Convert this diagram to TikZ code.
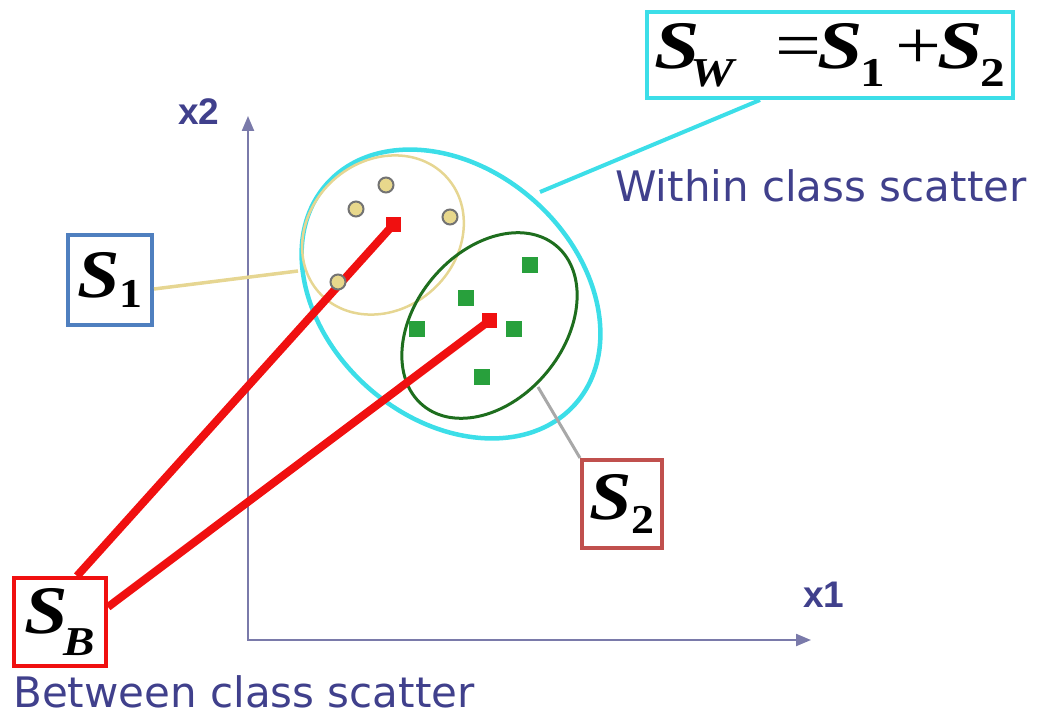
\documentclass[tikz,border=0pt]{standalone}
\usepackage{fontspec}
\setmainfont{Liberation Serif}
\newfontfamily\sansf{Liberation Sans}
\newfontfamily\dejaf{DejaVu Sans}
\usetikzlibrary{arrows.meta,calc}
\definecolor{axiscol}{RGB}{122,122,170}
\definecolor{labcol}{RGB}{64,64,140}
\definecolor{cyanc}{RGB}{60,222,232}
\definecolor{tanc}{RGB}{230,214,146}
\definecolor{darkg}{RGB}{30,110,30}
\definecolor{ptg}{RGB}{40,160,60}
\definecolor{redc}{RGB}{240,16,16}
\definecolor{blueb}{RGB}{79,127,191}
\definecolor{brownb}{RGB}{192,80,77}
\definecolor{grayc}{RGB}{168,168,168}
\definecolor{ptfill}{RGB}{232,216,140}
\newcommand\Sy[3]{{\bfseries\itshape S}\kern#2\raisebox{-#1}{\fontsize{41}{41}\selectfont\bfseries #3}}
\tikzset{
  axisline/.style={draw=axiscol, line width=2.2pt},
  symbox/.style={draw=#1, line width=4pt, fill=white, inner sep=0pt, font=\fontsize{68}{70}\selectfont},
  lab/.style={text=labcol, font=\dejaf\fontsize{42}{46}\selectfont, inner sep=0pt, anchor=base west},
  axlab/.style={text=labcol, font=\sansf\bfseries\fontsize{37}{40}\selectfont, inner sep=0pt, anchor=base west},
  tanpt/.style={circle, draw=gray!90!black, line width=2pt, fill=ptfill, minimum size=15pt, inner sep=0pt},
  grpt/.style={rectangle, fill=ptg, minimum size=16pt, inner sep=0pt},
  meanpt/.style={rectangle, fill=redc, minimum size=15pt, inner sep=0pt},
  redline/.style={draw=redc, line width=8pt},
}
\begin{document}
\begin{tikzpicture}[x=1pt,y=-1pt]
\useasboundingbox (0,0) rectangle (1039,727);
% axes
\coordinate (O) at (248,640);
\coordinate (ytip) at (248,116);
\coordinate (xtip) at (811,640);
\draw[axisline, {Triangle[length=15pt,width=12pt]}-{Triangle[length=15pt,width=12pt]}] (ytip) -- (O) -- (xtip);
\node[axlab] (x2) at (178,125) {x2};
\node[axlab] (x1) at (803,607) {x1};
% ellipses
\draw[cyanc, line width=4.5pt, shift={(451,294)}, rotate=-41.5] (0,0) ellipse [x radius=166pt, y radius=125pt];
\draw[tanc, line width=2.5pt, shift={(383,235)}, rotate=42] (0,0) ellipse [x radius=86pt, y radius=74pt];
\draw[darkg, line width=3pt, shift={(489.5,325.5)}, rotate=50] (0,0) ellipse [x radius=104pt, y radius=74pt];
% boxes
\node[symbox=redc, minimum width=92pt, minimum height=88pt] (SB) at (60,622) {\scalebox{1.15}[1]{\Sy{22pt}{-4pt}{\itshape B}}};
\node[symbox=blueb, minimum width=84pt, minimum height=90pt] (S1) at (110,280) {\scalebox{1.12}[1]{\Sy{10pt}{0pt}{1}}};
\node[symbox=brownb, minimum width=80pt, minimum height=88pt] (S2) at (622,504) {\scalebox{1.12}[1]{\Sy{14pt}{-1pt}{2}}};
\node[symbox=cyanc, minimum width=366pt, minimum height=86pt] (SW) at (830,55)
  {\scalebox{1.2}[1]{\Sy{18pt}{-8pt}{\itshape W}\kern 35pt=\kern-4pt\Sy{18pt}{-2pt}{1}\kern 9pt+\kern-3pt\Sy{18pt}{-2pt}{2}}};
% connectors
\coordinate (c1) at (298,271);
\coordinate (cw) at (540,192);
\coordinate (c2) at (538,387);
\draw[tanc, line width=3.5pt] ([yshift=-9pt]S1.east) -- (c1);
\draw[cyanc, line width=4pt] ([xshift=-70pt]SW.south) -- (cw);
\draw[grayc, line width=3pt] (c2) -- (S2.north west);
% means and between-class lines
\node[meanpt] (m1) at (393,225) {};
\node[meanpt] (m2) at (489,321) {};
\draw[redline] ([xshift=17pt]SB.north) -- (m1.center);
\draw[redline] ([yshift=15pt]SB.east) -- (m2.center);
\node[meanpt] at (393,225) {};
\node[meanpt] at (489,321) {};
% class 1 points
\node[tanpt] (p1) at (386,185) {};
\node[tanpt] (p2) at (356,209) {};
\node[tanpt] (p3) at (450,217) {};
\node[tanpt] (p4) at (338,282) {};
% class 2 points
\node[grpt] (g1) at (530,265) {};
\node[grpt] (g2) at (466,298) {};
\node[grpt] (g3) at (417,329) {};
\node[grpt] (g4) at (514,329) {};
\node[grpt] (g5) at (482,377) {};
% labels
\node[lab] (within) at (615,202) {Within class scatter};
\node[lab] (between) at (13,707) {Between class scatter};
\end{tikzpicture}
\end{document}
